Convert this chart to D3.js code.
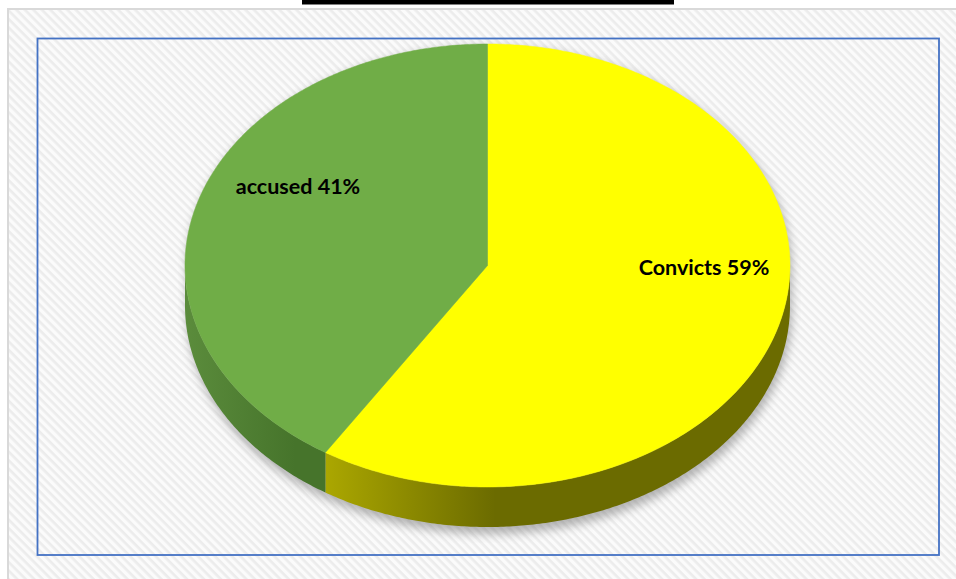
<!DOCTYPE html>
<html>
<head>
<meta charset="utf-8">
<script src="https://cdn.jsdelivr.net/npm/d3@7"></script>
<style>
  html, body { margin: 0; padding: 0; background: #ffffff; }
  svg { display: block; }
</style>
</head>
<body>
<svg id="chart" width="956" height="579"></svg>
<script>
// Share of people in custody by status
const categories = ["Convicts", "accused"];
const values = [59, 41];
const topColors = ["#ffff00", "#70ad47"];
const sideDark = ["#6b6b00", "#46742b"];
const sideLight = ["#aba700", "#5b8c3c"];

const W = 956, H = 579;
const svg = d3.select("#chart");
const defs = svg.append("defs");

// diagonal hatch background
const pat = defs.append("pattern")
  .attr("id", "hatch").attr("patternUnits", "userSpaceOnUse")
  .attr("width", 6).attr("height", 6)
  .attr("patternTransform", "rotate(45)");
pat.append("rect").attr("width", 6).attr("height", 6).attr("fill", "#fbfbfb");
pat.append("rect").attr("width", 6).attr("height", 2.6).attr("fill", "#ececec");

svg.append("rect").attr("x", 8).attr("y", 9).attr("width", W).attr("height", H)
  .attr("fill", "url(#hatch)").attr("stroke", "#d9d9d9").attr("stroke-width", 2);

// black strip at the top edge
svg.append("rect").attr("x", 302).attr("y", 0).attr("width", 372).attr("height", 4.5).attr("fill", "#000");

// plot frame
svg.append("rect").attr("x", 37.5).attr("y", 38.5).attr("width", 901.5).attr("height", 516.5)
  .attr("fill", "none").attr("stroke", "#4472c4").attr("stroke-width", 1.8);

// 3D pie geometry
const cx = 487.5, cy = 265.5, rx = 302.5, ry = 221.5, depth = 40;
const px = a => cx + rx * Math.sin(a);
const py = (a, dz = 0) => cy - ry * Math.cos(a) + dz;

const arcs = d3.pie().sort(null).startAngle(0).endAngle(2 * Math.PI)(values);

function arcPts(a0, a1, dz) {
  const n = Math.max(2, Math.ceil(Math.abs(a1 - a0) / 0.01));
  return d3.range(n + 1).map(i => {
    const a = a0 + (a1 - a0) * i / n;
    return [px(a), py(a, dz)];
  });
}

// soft shadow under the pie
const shadowF = defs.append("filter").attr("id", "shadow")
  .attr("x", "-20%").attr("y", "-20%").attr("width", "140%").attr("height", "140%");
shadowF.append("feGaussianBlur").attr("stdDeviation", 5);
const shPts = arcPts(Math.PI / 2, Math.PI * 1.5, depth + 4);
const shTop = arcPts(Math.PI * 1.5, Math.PI / 2 + 2 * Math.PI, 0);
svg.append("path")
  .attr("d", d3.line()(shPts.concat(shTop)) + "Z")
  .attr("transform", "translate(2,3)")
  .attr("fill", "#7a7a7a").attr("opacity", 0.55)
  .attr("filter", "url(#shadow)");

// side walls (front half only)
const front0 = Math.PI / 2, front1 = Math.PI * 1.5;
arcs.forEach((d, i) => {
  const a0 = Math.max(d.startAngle, front0), a1 = Math.min(d.endAngle, front1);
  if (a1 <= a0) return;
  const gid = "side" + i;
  const g = defs.append("linearGradient").attr("id", gid)
    .attr("gradientUnits", "userSpaceOnUse")
    .attr("x1", px(a1)).attr("y1", 0).attr("x2", px(a1) + (i === 0 ? 170 : 110)).attr("y2", 0);
  g.append("stop").attr("offset", 0).attr("stop-color", sideLight[i]);
  g.append("stop").attr("offset", 1).attr("stop-color", sideDark[i]);
  const top = arcPts(a0, a1, 0);
  const bot = arcPts(a1, a0, depth);
  svg.append("path")
    .attr("d", d3.line()(top.concat(bot)) + "Z")
    .attr("fill", `url(#${gid})`);
});

// top faces
arcs.forEach((d, i) => {
  const pts = [[cx, cy]].concat(arcPts(d.startAngle, d.endAngle, 0));
  svg.append("path")
    .attr("d", d3.line()(pts) + "Z")
    .attr("fill", topColors[i])
    .attr("stroke", topColors[i]).attr("stroke-width", 0.5);
});

// data labels
const labelPos = [[704, 267], [298, 186]];
arcs.forEach((d, i) => {
  svg.append("text")
    .attr("x", labelPos[i][0]).attr("y", labelPos[i][1])
    .attr("text-anchor", "middle").attr("dominant-baseline", "central")
    .attr("font-family", "Lato, 'Open Sans', sans-serif")
    .attr("font-weight", 700).attr("font-size", 21.5)
    .attr("fill", "#000")
    .text(`${categories[i]} ${values[i]}%`);
});
</script>
</body>
</html>
